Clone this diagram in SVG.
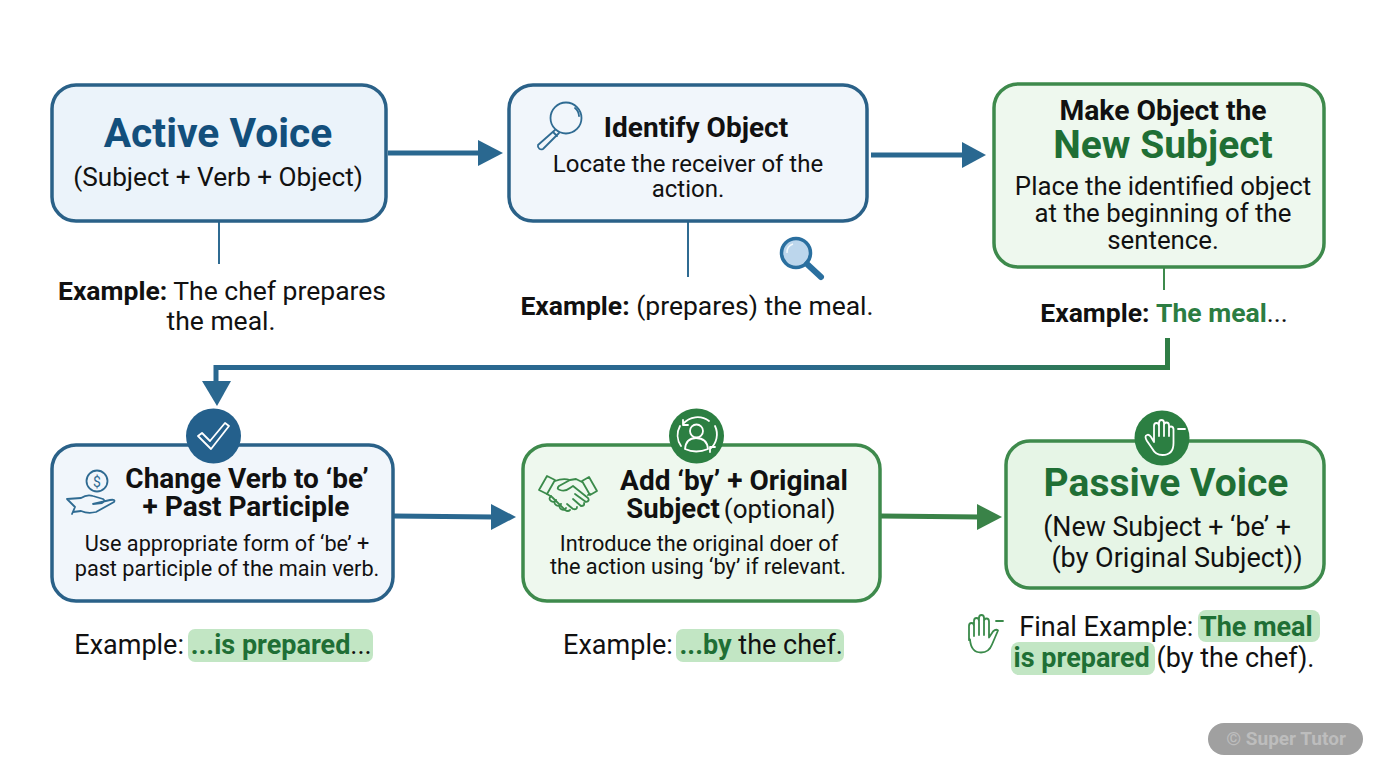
<svg xmlns="http://www.w3.org/2000/svg" width="1376" height="768" viewBox="0 0 1376 768">
<style>
text{font-family:Roboto,"Liberation Sans",sans-serif;fill:#111;text-anchor:middle}
.b{font-weight:700}
.bx{stroke-width:3.5}
.blue{fill:#f1f6fb;stroke:#2a6188}
.green{fill:#eef8ee;stroke:#3e8a4c}
.g{fill:#1f6f35;font-weight:700}
.ib{fill:none;stroke:#2f6b92;stroke-width:1.8;stroke-linecap:round;stroke-linejoin:round}
.ig{fill:none;stroke:#3a8a4a;stroke-width:1.8;stroke-linecap:round;stroke-linejoin:round}
.iw{fill:none;stroke:#fff;stroke-width:1.8;stroke-linecap:round;stroke-linejoin:round}
.hl{fill:#c2e6c4}
.con{fill:none;stroke-width:5}
.thin{stroke:#2f6b92;stroke-width:2;fill:none}
</style>
<defs>
<linearGradient id="grad" gradientUnits="userSpaceOnUse" x1="216" y1="0" x2="1168" y2="0"><stop offset="0.6" stop-color="#2a6890"/><stop offset="1" stop-color="#2f7d45"/></linearGradient>
</defs>
<rect width="1376" height="768" fill="#fff"/>
<g id="connectors">
<path class="con" d="M388 153H480" stroke="#2a6890"/><path d="M478 140L503 153L478 166Z" fill="#2a6890"/>
<path class="con" d="M871 155H964" stroke="#2a6890"/><path d="M962 142L986 155L962 168Z" fill="#2a6890"/>
<path class="con" d="M394 516L494 517" stroke="#2a6890"/><path d="M491 504L516 517L491 530Z" fill="#2a6890"/>
<path class="con" d="M881 516L980 517" stroke="#3a8348"/><path d="M977 504L1002 517L977 530Z" fill="#3a8348"/>
<path class="con" d="M1167.500 338V367.500H216V384" stroke="url(#grad)"/><path d="M202 381L217 406L231 381Z" fill="#2a6890"/>
<path class="thin" d="M219 222V264M688 222V277"/>
<path d="M1164 268V290" stroke="#3e8a4c" stroke-width="2" fill="none"/>
</g>
<g id="node-active">
<rect class="bx blue" x="52" y="85" width="334" height="136" rx="24" style="fill:#ebf3fa"/>
<text x="218" y="147" class="b" font-size="40.800" style="fill:#134f7c">Active Voice</text>
<text x="218" y="186" font-size="26.200">(Subject + Verb + Object)</text>
<text x="222" y="300" font-size="26.500"><tspan class="b">Example:</tspan> The chef prepares</text>
<text x="221" y="330" font-size="26.500">the meal.</text>
</g>
<g id="node-identify">
<rect class="bx blue" x="509" y="85" width="358" height="136" rx="24"/>
<circle class="ib" cx="566" cy="118" r="15.500"/>
<path class="ib" d="M575 108a11 11 0 0 1 4 8M555 130l-17 15a3.500 3.500 0 0 0 5 4l16-16M553 132l4 4"/>
<text x="696" y="137" class="b" font-size="28">Identify Object</text>
<text x="688" y="172" font-size="24">Locate the receiver of the</text>
<text x="688" y="197" font-size="24">action.</text>
<circle cx="796" cy="253" r="14.500" fill="#bcd6ec" stroke="#2a6f9f" stroke-width="3.500"/>
<path d="M807 264L821 277" stroke="#2a6f9f" stroke-width="6" stroke-linecap="round"/>
<path d="M787 253a9 9 0 0 1 6 -9" fill="none" stroke="#f2f8fc" stroke-width="1.500"/>
<text x="697" y="315" font-size="26.500"><tspan class="b">Example:</tspan> (prepares) the meal.</text>
</g>
<g id="node-new-subject">
<rect class="bx green" x="994" y="84" width="330" height="183" rx="24"/>
<text x="1163" y="120" class="b" font-size="28.300">Make Object the</text>
<text x="1163" y="158" class="g" font-size="39" style="fill:#1f6f35">New Subject</text>
<text x="1163" y="195" font-size="25.800">Place the identified object</text>
<text x="1163" y="222" font-size="25.800">at the beginning of the</text>
<text x="1163" y="249" font-size="25.800">sentence.</text>
<text x="1164" y="322" font-size="26.500"><tspan class="b">Example:</tspan> <tspan class="g" style="fill:#2c7d42">The meal</tspan><tspan>...</tspan></text>
</g>
<g id="node-change-verb">
<rect class="bx blue" x="52" y="445" width="341" height="156" rx="24"/>
<circle cx="213.500" cy="436" r="27.500" fill="#24608c"/>
<path class="iw" d="M198 436l4 -3 8 8 15 -18 4 3 -18 23Z" stroke-width="1.500"/>
<circle class="ib" cx="97" cy="481" r="10.500"/>
<text x="97" y="486.500" font-size="14" style="fill:#2f6b92">$</text>
<path class="ib" d="M67 499l14 -1q6 -4 12 -2l10 3q3 2 -1 4l-9 1 17 -4q6 -1 4 2l-18 10q-8 2 -15 -1l-8 1M67 499l8 8-3 7"/>
<text x="247" y="488" class="b" font-size="28">Change Verb to ‘be’</text>
<text x="246" y="516" class="b" font-size="28">+ Past Participle</text>
<text x="227" y="551" font-size="21.700">Use appropriate form of ‘be’ +</text>
<text x="227" y="576" font-size="21.700">past participle of the main verb.</text>
<rect class="hl" x="188" y="629" width="185" height="33" rx="7"/>
<text x="223" y="654" font-size="27">Example: <tspan class="g" style="fill:#1f6f35">...is prepared</tspan><tspan>...</tspan></text>
</g>
<g id="node-add-by">
<rect class="bx green" x="523" y="445" width="357" height="156" rx="24"/>
<circle cx="696.500" cy="436" r="27.500" fill="#2c7f42"/>
<circle class="iw" cx="696.500" cy="431" r="6.500" stroke-width="1.500"/>
<path class="iw" stroke-width="1.500" d="M685 449q1 -11 11 -11q11 0 12 11q-12 5 -23 0ZM683 424a19 19 0 0 1 26 -3M710 449a19 19 0 0 0 5 -23M681 446a19 19 0 0 1 -1 -20M683 420v5h5M710 452v-5h5"/>
<path class="ig" d="M539 490l8 -14 8 4 -8 14ZM597 491l-8 -14 -7 4 8 14Z"/>
<path class="ig" d="M555 481q8 -3 15 -1l6 -1 6 3M570 480l-11 6q-3 3 1 4q5 2 10 -2l3 -2 15 12q2 3 -2 4l-11 -8M584 503q1 3 -3 3l-8 -7M577 507q0 3 -4 2l-6 -5M570 510q-2 2 -5 0l-13 -13 -5 -3M588 495l2 -1"/>
<path class="ig" d="M551 496q-3 3 0 5q3 2 5 -1M556 500q-3 3 0 5q3 2 5 -1M561 504q-3 3 0 5q3 2 5 -1"/>
<text x="734" y="490" class="b" font-size="28">Add ‘by’ + Original</text>
<text x="731" y="518"><tspan class="b" font-size="27.500">Subject</tspan> <tspan font-size="26">(optional)</tspan></text>
<text x="699" y="551" font-size="21.700">Introduce the original doer of</text>
<text x="698" y="574" font-size="21.700">the action using ‘by’ if relevant.</text>
<rect class="hl" x="676" y="629" width="168" height="33" rx="7"/>
<text x="703" y="654" font-size="27">Example: <tspan class="g" style="fill:#1f6f35">...by</tspan> the chef.</text>
</g>
<g id="node-passive">
<rect class="bx green" x="1006" y="441" width="318" height="147" rx="24" style="fill:#e6f5e6"/>
<circle cx="1162" cy="438" r="27.500" fill="#2c7f42"/>
<path class="iw" stroke-width="1.600" d="M1147 441q-3 -5 0 -6q2 -1 4 2l3 5V426q0 -3 2.500 -3t2.500 3V423q0 -3 2.500 -3t2.500 3v2q0 -2.500 2.500 -2.500t2.500 3v3q0 -2 2 -2t2.500 2.500v14q0 12 -11 12q-7 0 -10 -6ZM1159 426v10M1164 423v13M1169 427v9M1178 429h7"/>
<text x="1166" y="496" class="b" font-size="39" style="fill:#1f6f35">Passive Voice</text>
<text x="1167" y="536" font-size="26.800">(New Subject + ‘be’ +</text>
<text x="1177" y="567" font-size="27">(by Original Subject))</text>
<path class="ig" d="M969 640V626q0 -3 2.500 -3t2.500 3v-5q0 -3 2.500 -3t2.500 3v-3q0 -3 2.500 -3t2.500 3v3q0 -2.500 2.500 -2.500t2.500 3v16l4 -6q3 -3 5 -1l-6 14q-3 8 -11 8q-10 0 -11 -13ZM974 626v10M979 621v14M984 618v17M996 621h7"/>
<rect class="hl" x="1198" y="610" width="122" height="32" rx="8"/>
<rect class="hl" x="1011" y="642" width="144" height="33" rx="8"/>
<text x="1166" y="636" font-size="27" xml:space="preserve">Final Example: <tspan class="g" style="fill:#1f6f35">The meal</tspan></text>
<text x="1164" y="667" font-size="27"><tspan class="g" style="fill:#1f6f35">is prepared</tspan> (by the chef).</text>
</g>
<g id="badge">
<rect x="1208" y="723" width="155" height="32" rx="16" fill="#a0a0a0"/>
<text x="1286" y="745" class="b" font-size="19" style="fill:#bdbdbd">© Super Tutor</text>
</g>
</svg>
